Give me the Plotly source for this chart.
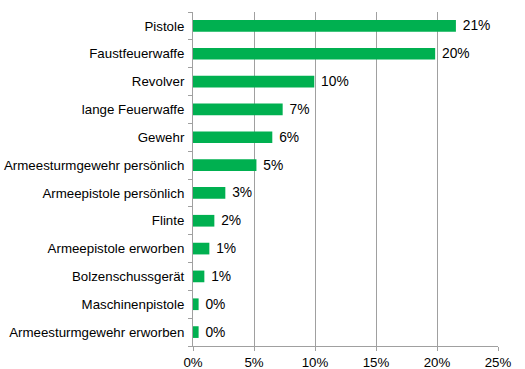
import plotly.graph_objects as go

categories = ["Pistole", "Faustfeuerwaffe", "Revolver", "lange Feuerwaffe", "Gewehr",
              "Armeesturmgewehr persönlich", "Armeepistole persönlich", "Flinte",
              "Armeepistole erworben", "Bolzenschussgerät", "Maschinenpistole",
              "Armeesturmgewehr erworben"]
values = [0.2155, 0.1985, 0.0994, 0.0735, 0.065, 0.052, 0.0265, 0.0175, 0.0134, 0.0093, 0.0046, 0.0046]
labels = ["21%", "20%", "10%", "7%", "6%", "5%", "3%", "2%", "1%", "1%", "0%", "0%"]
xticks = [0, 0.05, 0.10, 0.15, 0.20, 0.25]
xticklabels = ["0%", "5%", "10%", "15%", "20%", "25%"]

fig = go.Figure(go.Bar(
    x=values, y=categories, orientation="h",
    marker=dict(color="#00B050", line=dict(width=0)),
    text=labels, texttemplate=" %{text}", textposition="outside",
    cliponaxis=False, constraintext="none", hoverinfo="skip",
    textfont=dict(size=13.8, color="#000000"),
))

fig.update_layout(
    width=525, height=369,
    margin=dict(l=193, r=27, t=12, b=23),
    paper_bgcolor="white", plot_bgcolor="white",
    font=dict(family="Liberation Sans, Arial, sans-serif", size=13.3, color="#000000"),
    bargap=0.58, showlegend=False,
)
fig.update_xaxes(
    range=[0, 0.25], tickvals=xticks, ticktext=xticklabels,
    showgrid=True, gridcolor="#A0A0A0", gridwidth=1,
    showline=True, linecolor="#A0A0A0", linewidth=1,
    ticks="outside", ticklen=4, tickcolor="#A0A0A0",
    zeroline=False, fixedrange=True, automargin=False,
)
fig.update_yaxes(
    categoryorder="array", categoryarray=categories[::-1],
    showline=True, linecolor="#A0A0A0", linewidth=1,
    ticks="outside", ticklen=4, tickcolor="#A0A0A0", tickson="boundaries",
    showgrid=False, fixedrange=True, automargin=False, ticklabelstandoff=5,
)

fig.write_html("out.html", config={"displayModeBar": False},
               post_script="document.body.style.margin='0';document.body.style.overflow='hidden';")
